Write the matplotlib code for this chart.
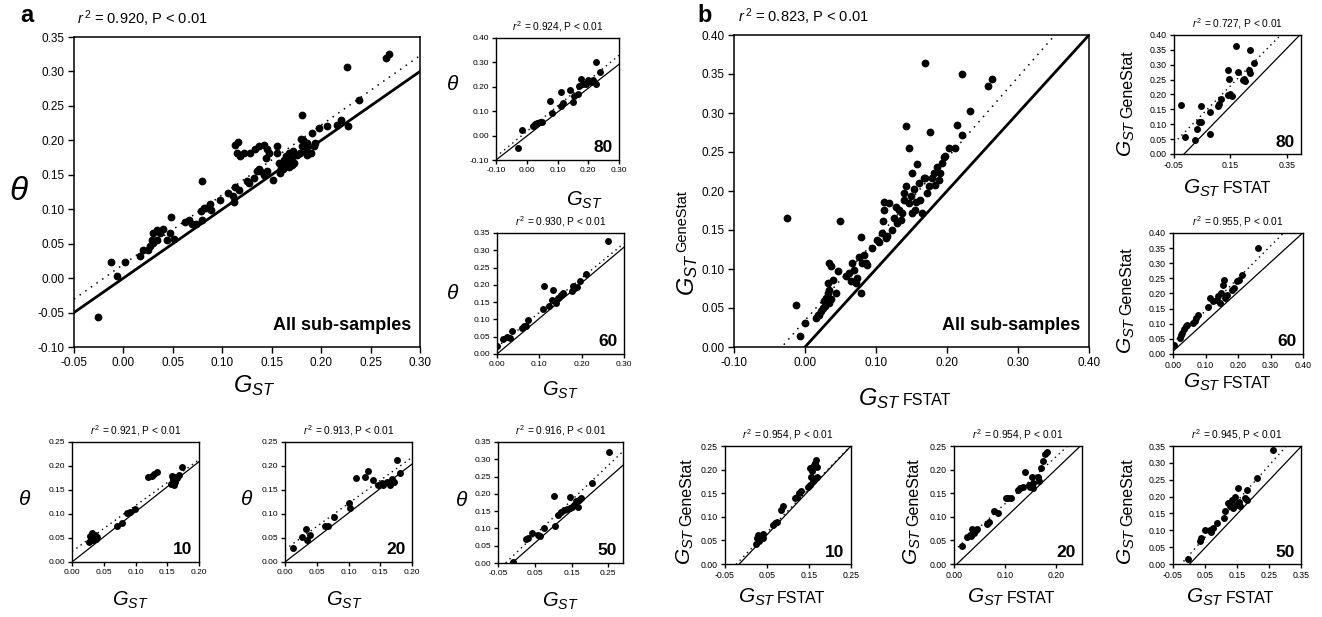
import numpy as np
import matplotlib.pyplot as plt

plt.rcParams['font.family'] = ['Liberation Sans', 'DejaVu Sans']
plt.rcParams['mathtext.fontset'] = 'custom'
plt.rcParams['mathtext.it'] = 'Liberation Sans:italic'
plt.rcParams['mathtext.rm'] = 'Liberation Sans'
NARROW = ['Liberation Sans Narrow', 'Liberation Sans']

# ---------------- data: (GST FSTAT, other estimator) ----------------
a_all = [(-0.026, -0.056), (-0.0125, 0.024), (-0.006, 0.003), (0.002, 0.023), (0.017, 0.032),
         (0.0196, 0.041), (0.0253, 0.041), (0.0287, 0.056), (0.0304, 0.065), (0.0338, 0.070),
         (0.0372, 0.065), (0.0405, 0.071), (0.030, 0.051), (0.034, 0.056), (0.027, 0.046),
         (0.044, 0.056), (0.051, 0.057), (0.047, 0.065), (0.048, 0.088), (0.0625, 0.082),
         (0.066, 0.084), (0.069, 0.079), (0.073, 0.079), (0.078, 0.097), (0.079, 0.141),
         (0.081, 0.102), (0.084, 0.102), (0.088, 0.107), (0.089, 0.099), (0.079, 0.085),
         (0.098, 0.113), (0.106, 0.123), (0.111, 0.119), (0.112, 0.110), (0.113, 0.132),
         (0.117, 0.128), (0.125, 0.141), (0.127, 0.138), (0.132, 0.146), (0.135, 0.155),
         (0.137, 0.158), (0.113, 0.193), (0.116, 0.198), (0.115, 0.181), (0.118, 0.177),
         (0.122, 0.181), (0.128, 0.181), (0.133, 0.188), (0.137, 0.192), (0.142, 0.193),
         (0.145, 0.188), (0.147, 0.182), (0.144, 0.174), (0.142, 0.149), (0.151, 0.142),
         (0.155, 0.192), (0.155, 0.182), (0.157, 0.167), (0.159, 0.160), (0.160, 0.167),
         (0.162, 0.172), (0.164, 0.177), (0.166, 0.175), (0.167, 0.182), (0.169, 0.170),
         (0.171, 0.177), (0.172, 0.184), (0.171, 0.164), (0.167, 0.162), (0.176, 0.178),
         (0.179, 0.182), (0.181, 0.192), (0.180, 0.202), (0.182, 0.201), (0.185, 0.189),
         (0.186, 0.179), (0.190, 0.182), (0.193, 0.192), (0.194, 0.196), (0.186, 0.196),
         (0.191, 0.211), (0.198, 0.218), (0.206, 0.221), (0.216, 0.222), (0.220, 0.229),
         (0.227, 0.221), (0.238, 0.259), (0.226, 0.306), (0.266, 0.319), (0.269, 0.325),
         (0.181, 0.237), (0.173, 0.167), (0.161, 0.158), (0.158, 0.153), (0.138, 0.155),
         (0.145, 0.155)]
a_80 = [(-0.030, -0.050), (-0.017, 0.025), (0.021, 0.039), (0.026, 0.047), (0.034, 0.053),
        (0.043, 0.057), (0.048, 0.054), (0.077, 0.141), (0.081, 0.093), (0.111, 0.179),
        (0.113, 0.120), (0.118, 0.132), (0.142, 0.186), (0.149, 0.138), (0.154, 0.161),
        (0.166, 0.172), (0.178, 0.234), (0.183, 0.213), (0.170, 0.202), (0.194, 0.213),
        (0.199, 0.227), (0.210, 0.220), (0.216, 0.227), (0.224, 0.302), (0.226, 0.213),
        (0.237, 0.261)]
a_60 = [(0.0, 0.024), (0.014, 0.043), (0.024, 0.048), (0.030, 0.047), (0.036, 0.067),
        (0.058, 0.075), (0.063, 0.080), (0.068, 0.082), (0.073, 0.099), (0.109, 0.129),
        (0.111, 0.198), (0.122, 0.139), (0.129, 0.157), (0.133, 0.186), (0.139, 0.147),
        (0.144, 0.162), (0.152, 0.171), (0.156, 0.176), (0.176, 0.181), (0.180, 0.196),
        (0.184, 0.191), (0.188, 0.194), (0.196, 0.210), (0.210, 0.232), (0.263, 0.328)]
a_10 = [(0.026, 0.041), (0.029, 0.055), (0.031, 0.060), (0.034, 0.053), (0.037, 0.057),
        (0.039, 0.053), (0.033, 0.046), (0.038, 0.048), (0.030, 0.050), (0.071, 0.075),
        (0.079, 0.081), (0.087, 0.103), (0.091, 0.105), (0.099, 0.111), (0.120, 0.177),
        (0.126, 0.179), (0.129, 0.183), (0.134, 0.188), (0.156, 0.162), (0.159, 0.171),
        (0.162, 0.167), (0.165, 0.174), (0.160, 0.160), (0.164, 0.178), (0.168, 0.181),
        (0.174, 0.198), (0.157, 0.179)]
a_20 = [(0.013, 0.029), (0.026, 0.053), (0.033, 0.068), (0.034, 0.046), (0.040, 0.057),
        (0.063, 0.074), (0.068, 0.075), (0.077, 0.093), (0.101, 0.122), (0.102, 0.112),
        (0.112, 0.174), (0.126, 0.178), (0.131, 0.190), (0.139, 0.171), (0.147, 0.160),
        (0.152, 0.165), (0.154, 0.160), (0.160, 0.167), (0.165, 0.160), (0.168, 0.172),
        (0.172, 0.167), (0.176, 0.212), (0.181, 0.186)]
a_50 = [(-0.010, 0.003), (0.027, 0.068), (0.032, 0.072), (0.043, 0.087), (0.058, 0.082),
        (0.064, 0.077), (0.076, 0.101), (0.102, 0.193), (0.104, 0.108), (0.114, 0.140),
        (0.120, 0.147), (0.129, 0.154), (0.138, 0.156), (0.147, 0.159), (0.152, 0.162),
        (0.156, 0.169), (0.167, 0.162), (0.145, 0.191), (0.161, 0.178), (0.170, 0.183),
        (0.175, 0.188), (0.206, 0.231), (0.252, 0.320)]
b_all = [(-0.0257, 0.166), (-0.013, 0.054), (-0.0065, 0.0145), (0.0005, 0.031), (0.0154, 0.037),
         (0.0178, 0.041), (0.0224, 0.046), (0.0248, 0.050), (0.0271, 0.059), (0.0294, 0.063),
         (0.0318, 0.069), (0.0341, 0.073), (0.0285, 0.052), (0.0332, 0.056), (0.0364, 0.061),
         (0.0318, 0.082), (0.0332, 0.108), (0.0364, 0.104), (0.0388, 0.086), (0.0435, 0.069),
         (0.0458, 0.098), (0.0201, 0.041), (0.049, 0.162), (0.0575, 0.0905), (0.0621, 0.0948),
         (0.0645, 0.084), (0.0668, 0.1076), (0.0692, 0.099), (0.0715, 0.082), (0.0738, 0.088),
         (0.0762, 0.116), (0.0785, 0.069), (0.0785, 0.141), (0.0808, 0.1076), (0.0832, 0.118),
         (0.0855, 0.1076), (0.0879, 0.105), (0.0949, 0.127), (0.1019, 0.137), (0.1042, 0.135),
         (0.1089, 0.146), (0.1098, 0.161), (0.1107, 0.176), (0.1112, 0.186), (0.1136, 0.140),
         (0.1159, 0.142), (0.1182, 0.184), (0.1229, 0.150), (0.1252, 0.165), (0.1276, 0.180),
         (0.1299, 0.159), (0.1322, 0.176), (0.1346, 0.163), (0.1369, 0.172), (0.1393, 0.189),
         (0.1416, 0.283), (0.1463, 0.255), (0.1393, 0.197), (0.1416, 0.206), (0.1463, 0.184),
         (0.1486, 0.193), (0.1509, 0.223), (0.1509, 0.172), (0.1533, 0.202), (0.1556, 0.176),
         (0.1565, 0.186), (0.1579, 0.234), (0.1603, 0.210), (0.1626, 0.189), (0.1650, 0.172),
         (0.1673, 0.217), (0.1696, 0.217), (0.1720, 0.197), (0.1743, 0.206), (0.1766, 0.276),
         (0.1790, 0.217), (0.1813, 0.223), (0.1836, 0.208), (0.1860, 0.231), (0.1883, 0.214),
         (0.1907, 0.223), (0.1687, 0.364), (0.193, 0.236), (0.1953, 0.244), (0.1977, 0.245),
         (0.2023, 0.255), (0.2117, 0.255), (0.2140, 0.284), (0.2210, 0.272), (0.2210, 0.350),
         (0.2327, 0.302), (0.2584, 0.335), (0.2631, 0.344)]
b_80 = [(-0.026, 0.165), (-0.012, 0.056), (0.023, 0.046), (0.032, 0.084), (0.038, 0.106),
        (0.045, 0.109), (0.047, 0.162), (0.077, 0.068), (0.079, 0.141), (0.110, 0.168),
        (0.115, 0.185), (0.106, 0.160), (0.142, 0.283), (0.146, 0.253), (0.140, 0.199),
        (0.150, 0.201), (0.154, 0.196), (0.169, 0.364), (0.177, 0.277), (0.193, 0.249),
        (0.201, 0.244), (0.198, 0.253), (0.217, 0.283), (0.221, 0.350), (0.221, 0.272),
        (0.233, 0.305)]
b_60 = [(0.002, 0.030), (0.021, 0.053), (0.029, 0.069), (0.033, 0.083), (0.039, 0.094),
        (0.043, 0.097), (0.026, 0.064), (0.060, 0.102), (0.067, 0.108), (0.072, 0.119),
        (0.077, 0.130), (0.108, 0.155), (0.113, 0.185), (0.124, 0.174), (0.134, 0.180),
        (0.139, 0.191), (0.144, 0.169), (0.149, 0.202), (0.153, 0.229), (0.157, 0.246),
        (0.160, 0.185), (0.165, 0.196), (0.180, 0.213), (0.188, 0.218), (0.196, 0.240),
        (0.204, 0.246), (0.211, 0.262), (0.263, 0.350)]
b_10 = [(0.024, 0.043), (0.027, 0.055), (0.029, 0.062), (0.033, 0.058), (0.037, 0.060),
        (0.032, 0.048), (0.040, 0.064), (0.041, 0.055), (0.065, 0.083), (0.069, 0.087),
        (0.073, 0.090), (0.083, 0.115), (0.089, 0.123), (0.117, 0.139), (0.122, 0.143),
        (0.127, 0.150), (0.130, 0.154), (0.148, 0.164), (0.152, 0.203), (0.154, 0.185),
        (0.156, 0.196), (0.159, 0.175), (0.162, 0.210), (0.164, 0.213), (0.167, 0.220),
        (0.168, 0.206), (0.170, 0.184), (0.152, 0.168)]
b_20 = [(0.015, 0.038), (0.026, 0.057), (0.032, 0.062), (0.036, 0.074), (0.039, 0.066),
        (0.043, 0.071), (0.034, 0.059), (0.045, 0.074), (0.065, 0.085), (0.068, 0.090),
        (0.079, 0.1125), (0.086, 0.109), (0.101, 0.139), (0.105, 0.140), (0.112, 0.139),
        (0.125, 0.156), (0.129, 0.161), (0.134, 0.163), (0.139, 0.194), (0.146, 0.168),
        (0.148, 0.163), (0.152, 0.185), (0.154, 0.172), (0.155, 0.161), (0.165, 0.184),
        (0.170, 0.203), (0.173, 0.219), (0.177, 0.234), (0.181, 0.238), (0.166, 0.175)]
b_50 = [(-0.003, 0.015), (0.034, 0.067), (0.039, 0.077), (0.049, 0.100), (0.065, 0.102),
        (0.070, 0.094), (0.075, 0.106), (0.086, 0.121), (0.109, 0.136), (0.112, 0.156),
        (0.122, 0.180), (0.128, 0.171), (0.133, 0.190), (0.138, 0.166), (0.143, 0.200),
        (0.148, 0.176), (0.152, 0.225), (0.157, 0.185), (0.159, 0.171), (0.175, 0.195),
        (0.182, 0.220), (0.180, 0.190), (0.213, 0.254), (0.261, 0.338)]

# (slope, intercept) of the solid and dotted lines
solid = {'a_all': (1.0, 0.0), 'a_80': (0.98, -0.002), 'a_60': (1.03, 0.0),
         'a_10': (1.045, 0.0), 'a_20': (1.02, 0.0), 'a_50': (0.937, 0.011),
         'b_all': (1.0, 0.0), 'b_80': (0.975, 0.014), 'b_60': (0.98, 0.009),
         'b_10': (0.94, 0.015), 'b_20': (1.037, -0.006), 'b_50': (1.0, -0.002)}
dotted = {'a_all': (1.01, 0.02), 'a_80': (1.04, 0.017), 'a_60': (1.0, 0.02),
          'a_10': (0.955, 0.022), 'a_20': (0.96, 0.026), 'a_50': (1.01, 0.03),
          'b_all': (1.04, 0.034), 'b_80': (0.96, 0.085), 'b_60': (1.07, 0.036),
          'b_10': (0.92, 0.021), 'b_20': (1.0, 0.028), 'b_50': (1.065, 0.026)}
r2 = {'a_all': '0.920', 'a_80': '0.924', 'a_60': '0.930', 'a_10': '0.921', 'a_20': '0.913',
      'a_50': '0.916', 'b_all': '0.823', 'b_80': '0.727', 'b_60': '0.955', 'b_10': '0.954',
      'b_20': '0.954', 'b_50': '0.945'}

W, H = 1322, 617
fig = plt.figure(figsize=(W / 100, H / 100), dpi=100)
GST = r'$G_{ST}$'


def px(l, r, t, b):
    return [l / W, 1 - b / H, (r - l) / W, (b - t) / H]


def panel(key, pts, rect, xlim, ylim, xt, yt, tag, big=False, panel_b=False):
    ax = fig.add_axes(rect)
    x, y = np.array(pts).T
    ax.plot(x, y, 'o', color='black', ms=5.6 if big else 5.0, mew=0, zorder=3)
    xx = np.array(xlim)
    s = solid[key]
    d = dotted[key]
    ax.plot(xx, s[0] * xx + s[1], color='black', lw=2.0 if big else 0.9, zorder=2)
    ax.plot(xx, d[0] * xx + d[1], color='black', lw=1.1 if big else 1.0,
            ls=(0, (1, 3.5)) if big else (0, (1, 2.8)), zorder=2)
    ax.set_xlim(xlim)
    ax.set_ylim(ylim)
    tfs = 8.5 if big else (6.3 if panel_b else 6.0)
    fam = ['Liberation Sans'] if big else NARROW
    ax.set_xticks(xt, labels=['%.2f' % v for v in xt], fontsize=tfs, family=fam)
    ax.set_yticks(yt, labels=['%.2f' % v for v in yt], fontsize=tfs, family=fam)
    ax.tick_params(direction='out', length=4 if big else 3, width=1, pad=3 if big else 2)
    for sp in ax.spines.values():
        sp.set_linewidth(1.1 if big else 1.0)
    ttl = r'$r^{\,2}$ = %s, P < 0.01' % r2[key]
    if big:
        ax.text(0.01, 1.025, ttl, transform=ax.transAxes, ha='left', va='bottom', fontsize=10.5)
        ax.text(0.975, 0.07, tag, transform=ax.transAxes, ha='right', va='center',
                fontsize=13, fontweight='bold')
    else:
        ax.text(0.5, 1.03, ttl, transform=ax.transAxes, ha='center', va='bottom', fontsize=7.3)
        ax.text(0.95, 0.1, tag, transform=ax.transAxes, ha='right', va='center',
                fontsize=12.5, fontweight='bold')
    return ax


def a_labels(ax, xpos, ypos, big=False):
    ax.text(xpos[0], xpos[1], GST, transform=ax.transAxes, ha='center', va='center',
            fontsize=17 if big else 14.5)
    ax.text(ypos[0], ypos[1], r'$\theta$', transform=ax.transAxes, ha='center', va='center',
            fontsize=24 if big else 15)


def b_labels(ax, xsplit, xbase, ybase, ysplit, gs=15, ss=11.5):
    # x label: G_ST followed by FSTAT on the same baseline
    ax.text(xsplit, xbase, GST, transform=ax.transAxes, ha='right', va='baseline', fontsize=gs)
    ax.text(xsplit + 0.01, xbase, 'FSTAT', transform=ax.transAxes, ha='left', va='baseline',
            fontsize=ss)
    # y label: rotated G_ST followed by GeneStat
    ax.text(ybase, ysplit, GST, transform=ax.transAxes, ha='right', va='baseline',
            fontsize=gs, rotation=90, rotation_mode='anchor')
    ax.text(ybase, ysplit + 0.01, 'GeneStat', transform=ax.transAxes, ha='left', va='baseline',
            fontsize=ss, rotation=90, rotation_mode='anchor')


ax = panel('a_all', a_all, px(74, 420, 37, 347), (-0.05, 0.30), (-0.10, 0.35),
           [-0.05, 0.0, 0.05, 0.10, 0.15, 0.20, 0.25, 0.30],
           [-0.10, -0.05, 0.0, 0.05, 0.10, 0.15, 0.20, 0.25, 0.30, 0.35],
           'All sub-samples', big=True)
a_labels(ax, (0.52, -0.125), (-0.16, 0.5), big=True)
ax = panel('a_80', a_80, px(496, 619, 38, 160), (-0.10, 0.30), (-0.10, 0.40),
           [-0.10, 0.0, 0.10, 0.20, 0.30], [-0.10, 0.0, 0.10, 0.20, 0.30, 0.40], '80')
a_labels(ax, (0.72, -0.33), (-0.35, 0.62))
ax = panel('a_60', a_60, px(497, 624, 233, 354), (0.0, 0.30), (0.0, 0.35),
           [0.0, 0.10, 0.20, 0.30], [0.0, 0.05, 0.10, 0.15, 0.20, 0.25, 0.30, 0.35], '60')
a_labels(ax, (0.5, -0.30), (-0.35, 0.5))
ax = panel('a_10', a_10, px(72, 199, 442, 562), (0.0, 0.20), (0.0, 0.25),
           [0.0, 0.05, 0.10, 0.15, 0.20], [0.0, 0.05, 0.10, 0.15, 0.20, 0.25], '10')
a_labels(ax, (0.46, -0.32), (-0.37, 0.52))
ax = panel('a_20', a_20, px(285, 412, 442, 562), (0.0, 0.20), (0.0, 0.25),
           [0.0, 0.05, 0.10, 0.15, 0.20], [0.0, 0.05, 0.10, 0.15, 0.20, 0.25], '20')
a_labels(ax, (0.47, -0.32), (-0.30, 0.52))
ax = panel('a_50', a_50, px(498, 623, 442, 563), (-0.05, 0.29), (0.0, 0.35),
           [-0.05, 0.05, 0.15, 0.25], [0.0, 0.05, 0.10, 0.15, 0.20, 0.25, 0.30, 0.35], '50')
a_labels(ax, (0.5, -0.32), (-0.29, 0.52))

ax = panel('b_all', b_all, px(734, 1089, 35, 347), (-0.10, 0.40), (0.0, 0.40),
           [-0.10, 0.0, 0.10, 0.20, 0.30, 0.40],
           [0.0, 0.05, 0.10, 0.15, 0.20, 0.25, 0.30, 0.35, 0.40],
           'All sub-samples', big=True, panel_b=True)
ax.text(0.47, -0.185, GST, transform=ax.transAxes, ha='right', va='baseline', fontsize=17)
ax.text(0.475, -0.185, 'FSTAT', transform=ax.transAxes, ha='left', va='baseline', fontsize=11.5)
# y label: G_ST with GeneStat as a raised superscript
ax.text(-0.112, 0.30, GST, transform=ax.transAxes, ha='right', va='baseline',
        fontsize=17, rotation=90, rotation_mode='anchor')
ax.text(-0.135, 0.305, 'GeneStat', transform=ax.transAxes, ha='left', va='baseline',
        fontsize=10.5, rotation=90, rotation_mode='anchor')

ax = panel('b_80', b_80, px(1174, 1301, 35, 154), (-0.05, 0.40), (0.0, 0.40),
           [-0.05, 0.15, 0.35], [0.0, 0.05, 0.10, 0.15, 0.20, 0.25, 0.30, 0.35, 0.40],
           '80', panel_b=True)
b_labels(ax, 0.37, -0.33, -0.33, 0.29)
ax = panel('b_60', b_60, px(1173, 1303, 233, 354), (0.0, 0.40), (0.0, 0.40),
           [0.0, 0.10, 0.20, 0.30, 0.40], [0.0, 0.05, 0.10, 0.15, 0.20, 0.25, 0.30, 0.35, 0.40],
           '60', panel_b=True)
b_labels(ax, 0.37, -0.28, -0.32, 0.31)
ax = panel('b_10', b_10, px(725, 851, 446, 564), (-0.05, 0.25), (0.0, 0.25),
           [-0.05, 0.05, 0.15, 0.25], [0.0, 0.05, 0.10, 0.15, 0.20, 0.25], '10', panel_b=True)
b_labels(ax, 0.40, -0.33, -0.27, 0.31)
ax = panel('b_20', b_20, px(954, 1082, 446, 564), (0.0, 0.25), (0.0, 0.25),
           [0.0, 0.10, 0.20], [0.0, 0.05, 0.10, 0.15, 0.20, 0.25], '20', panel_b=True)
b_labels(ax, 0.40, -0.33, -0.28, 0.31)
ax = panel('b_50', b_50, px(1173, 1301, 446, 564), (-0.05, 0.35), (0.0, 0.35),
           [-0.05, 0.05, 0.15, 0.25, 0.35], [0.0, 0.05, 0.10, 0.15, 0.20, 0.25, 0.30, 0.35],
           '50', panel_b=True)
b_labels(ax, 0.40, -0.33, -0.32, 0.31)

fig.text(20 / W, 1 - 15 / H, 'a', fontsize=17, fontweight='bold', va='center', ha='left')
fig.text(697 / W, 1 - 15 / H, 'b', fontsize=17, fontweight='bold', va='center', ha='left')

fig.savefig('out.png', dpi=100, facecolor='white')
